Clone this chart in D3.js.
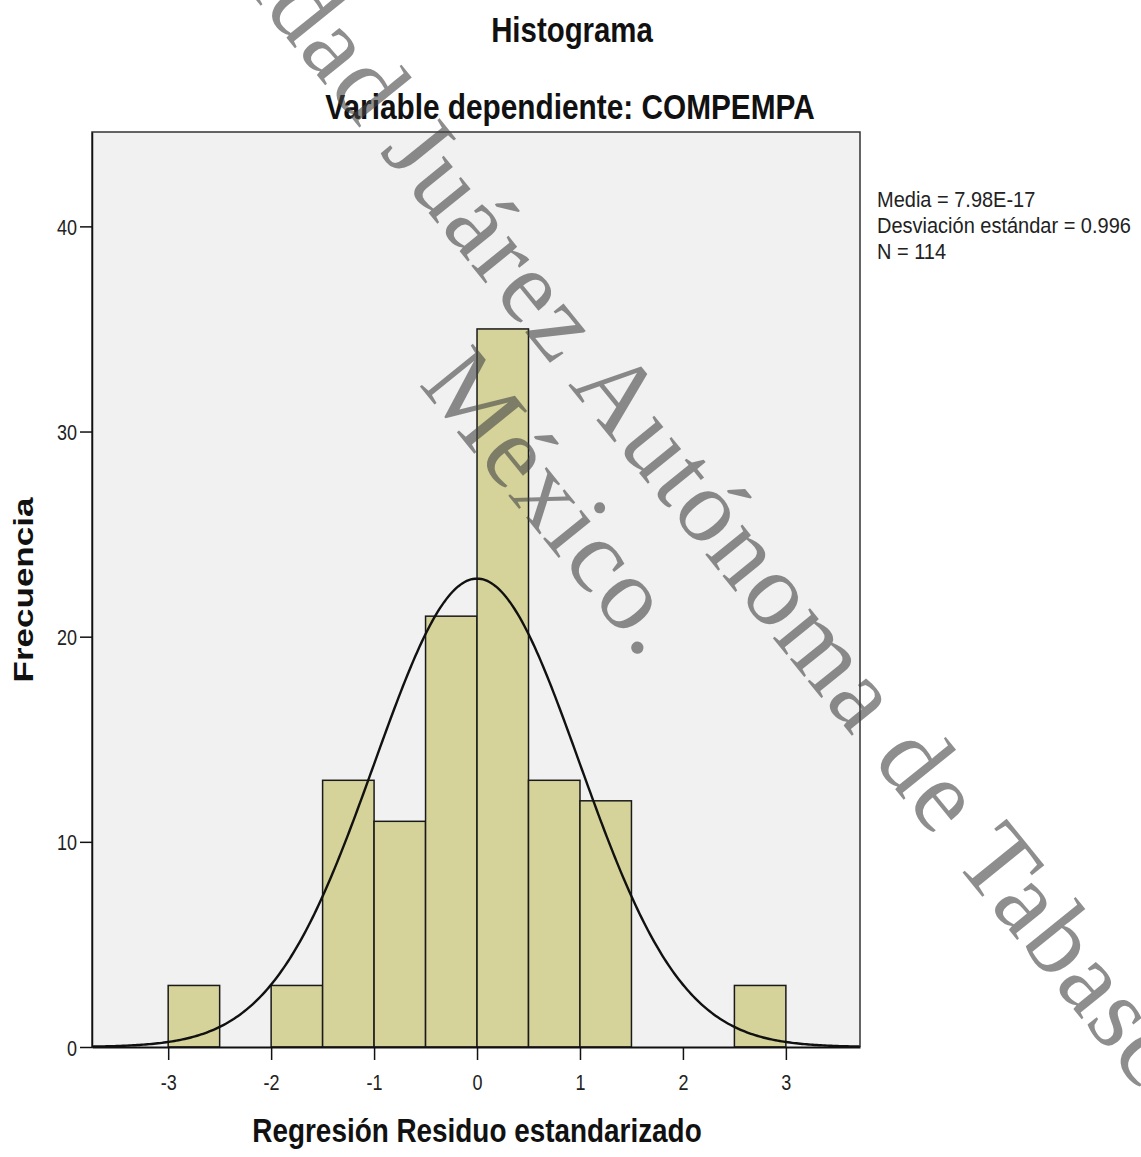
<!DOCTYPE html>
<html>
<head>
<meta charset="utf-8">
<script src="https://cdn.jsdelivr.net/npm/d3@7"></script>
<style>
  body { margin: 0; background: #fff; }
  text { font-family: "Liberation Sans", Arial, sans-serif; }
</style>
</head>
<body>
<svg width="1141" height="1157"></svg>
<script>
// histogram bins (lower edge) and counts
const binStarts = [-3, -2.5, -2, -1.5, -1, -0.5, 0, 0.5, 1, 1.5, 2, 2.5];
const counts = [3, 0, 3, 13, 11, 21, 35, 13, 12, 0, 0, 3];
const binWidth = 0.5;
const xTicks = [-3, -2, -1, 0, 1, 2, 3];
const yTicks = [0, 10, 20, 30, 40];
// stats shown in the legend, used for the normal curve
const mean = 7.98e-17;
const sd = 0.996;
const n = 114;
const legendLines = ['Media = 7.98E-17', 'Desviación estándar = 0.996', 'N = 114'];

function Start(){
    const svg = d3.select('svg');
    const left = 92, right = 860, top = 132, bottom = 1047;
    const stretch = 1.2;

    const x = d3.scaleLinear().domain([-3.74, 3.72]).range([left, right]);
    const y = d3.scaleLinear().domain([0, 44.6]).range([bottom, top]);

    // plot background
    svg.append('rect')
        .attr('x', left).attr('y', top)
        .attr('width', right - left).attr('height', bottom - top)
        .attr('fill', '#f1f1f1');

    // bars
    const bins = binStarts.map((b, i) => ({x0: b, x1: b + binWidth, c: counts[i]}))
        .filter(d => d.c > 0);
    svg.append('g').selectAll('rect')
        .data(bins)
        .join('rect')
        .attr('x', d => x(d.x0))
        .attr('y', d => y(d.c))
        .attr('width', d => x(d.x1) - x(d.x0))
        .attr('height', d => y(0) - y(d.c))
        .attr('fill', '#d5d39a')
        .attr('stroke', '#1a1a1a')
        .attr('stroke-width', 1.5);

    // normal curve from mean / sd / N
    const pdf = v => Math.exp(-0.5 * Math.pow((v - mean) / sd, 2)) / (sd * Math.sqrt(2 * Math.PI));
    const pts = d3.range(x.domain()[0], x.domain()[1] + 0.001, 0.02).map(v => [v, n * binWidth * pdf(v)]);
    svg.append('path')
        .attr('d', d3.line().x(d => x(d[0])).y(d => y(d[1]))(pts))
        .attr('fill', 'none')
        .attr('stroke', '#111')
        .attr('stroke-width', 2.4);

    // frame
    svg.append('path')
        .attr('d', `M${left},${bottom}V${top}H${right}V${bottom}`)
        .attr('fill', 'none')
        .attr('stroke', '#333')
        .attr('stroke-width', 1.5);

    // axes
    const xAxis = svg.append('g')
        .attr('transform', `translate(0,${bottom})`)
        .call(d3.axisBottom(x).tickValues(xTicks).tickSize(13).tickSizeOuter(0).tickFormat(d => String(d)));
    xAxis.select('.domain').attr('stroke', '#111').attr('stroke-width', 2.2);
    xAxis.selectAll('line').attr('stroke', '#111').attr('stroke-width', 1.5);
    xAxis.selectAll('text')
        .attr('y', 0).attr('dy', 0)
        .attr('transform', `translate(0,43) scale(1,${stretch})`)
        .attr('font-size', 18)
        .attr('font-family', '"Liberation Sans", Arial, sans-serif')
        .attr('fill', '#222');

    const yAxis = svg.append('g')
        .attr('transform', `translate(${left},0)`)
        .call(d3.axisLeft(y).tickValues(yTicks).tickSize(12).tickSizeOuter(0).tickFormat(d => String(d)));
    yAxis.select('.domain').attr('stroke', '#111').attr('stroke-width', 1.5);
    yAxis.selectAll('line').attr('stroke', '#111').attr('stroke-width', 1.5);
    yAxis.selectAll('text')
        .attr('x', 0).attr('dy', 0)
        .attr('transform', `translate(-15,8) scale(1,${stretch})`)
        .attr('font-size', 18)
        .attr('font-family', '"Liberation Sans", Arial, sans-serif')
        .attr('fill', '#222');

    // titles
    svg.append('text')
        .attr('transform', `translate(572,42) scale(1,${stretch})`)
        .attr('text-anchor', 'middle')
        .attr('font-size', 29.4).attr('font-weight', 'bold')
        .attr('fill', '#111')
        .text('Histograma');
    svg.append('text')
        .attr('transform', `translate(570,119) scale(1,${stretch})`)
        .attr('text-anchor', 'middle')
        .attr('font-size', 29.8).attr('font-weight', 'bold')
        .attr('fill', '#111')
        .text('Variable dependiente: COMPEMPA');
    svg.append('text')
        .attr('transform', `translate(477,1142) scale(1,${stretch})`)
        .attr('text-anchor', 'middle')
        .attr('font-size', 27.9).attr('font-weight', 'bold')
        .attr('fill', '#111')
        .text('Regresión Residuo estandarizado');
    svg.append('text')
        .attr('transform', `translate(33,590) scale(1,1.25) rotate(-90)`)
        .attr('text-anchor', 'middle')
        .attr('font-size', 28).attr('font-weight', 'bold')
        .attr('fill', '#111')
        .text('Frecuencia');

    // legend
    svg.append('g').selectAll('text')
        .data(legendLines)
        .join('text')
        .attr('transform', (d, i) => `translate(877,${207 + i * 26}) scale(1,1.12)`)
        .attr('font-size', 20)
        .attr('fill', '#222')
        .text(d => d);

    // watermark
    const wm = svg.append('g')
        .attr('transform', 'translate(610,437) rotate(51)')
        .attr('font-family', '"Liberation Serif", "Times New Roman", serif')
        .attr('font-size', 104)
        .attr('fill', '#444')
        .attr('opacity', 0.6)
        .attr('text-anchor', 'middle');
    wm.append('text').attr('x', 0).attr('y', 0)
        .attr('letter-spacing', 2)
        .style('font-family', '"Liberation Serif", "Times New Roman", serif')
        .text('Universidad Juárez Autónoma de Tabasco.');
    wm.append('text').attr('x', 17).attr('y', 116)
        .attr('letter-spacing', 2)
        .style('font-family', '"Liberation Serif", "Times New Roman", serif')
        .text('México.');
}
Start();
</script>
</body>
</html>
